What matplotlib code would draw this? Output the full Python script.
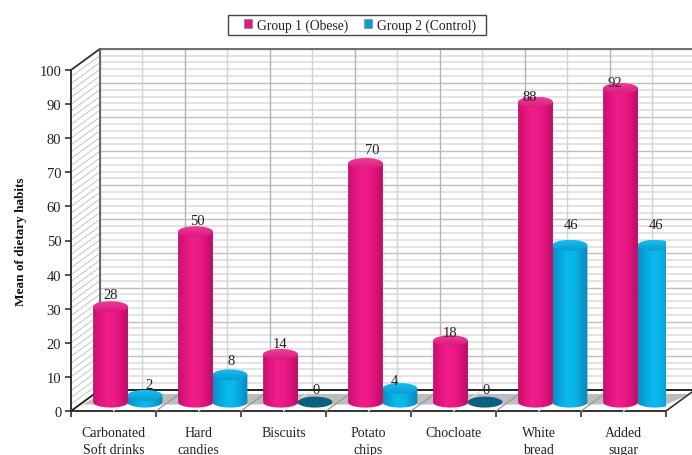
import numpy as np
import matplotlib
matplotlib.use('Agg')
import matplotlib.pyplot as plt
from matplotlib.patches import PathPatch, Polygon, Rectangle
from matplotlib.path import Path

plt.rcParams['font.family'] = ['Liberation Serif', 'DejaVu Serif']

categories = ['Carbonated\nSoft drinks', 'Hard\ncandies', 'Biscuits', 'Potato\nchips',
              'Chocloate', 'White\nbread', 'Added\nsugar']
obese = [28, 50, 14, 70, 18, 88, 92]
control = [2, 8, 0, 4, 0, 46, 46]
y_ticks = list(range(0, 101, 10))

# label nudges in points (x, y) relative to the top of each cylinder
obese_nudge = [(0, 9), (1, 8), (0, 8), (5, 10), (0, 6), (-4, 4), (-4, 4)]
control_nudge = [(3, 8), (1, 10), (1, 9), (-4, 6), (1, 9), (1, 15), (1, 15)]

# depth of the 3D box, in data units
DX = 0.341
DY = 6.2
# cylinder geometry, in data units
RX = 0.205
RY = 1.6
BASE_X = 0.465
GAP_X = 0.405
BASE_Y = 2.6

W, H = 692, 456
fig = plt.figure(figsize=(W / 100, H / 100), dpi=100)
ax = fig.add_axes([71 / W, 1 - 412 / H, 595 / W, 341 / H])
ax.set_xlim(0, 7)
ax.set_ylim(0, 100)
ax.patch.set_visible(False)


def cmap_for(stops):
    return matplotlib.colors.LinearSegmentedColormap.from_list('c', stops)


pink_side = cmap_for(['#C4126E', '#E4147F', '#EE1E8A', '#EC1A86', '#DC1279', '#B80F66'])
pink_top = cmap_for(['#EE3C98', '#DC1A7E'])
blue_side = cmap_for(['#0A8EC2', '#08A6DC', '#0ABAEC', '#0AB6EA', '#08A2D8', '#0A86B8'])
blue_top = cmap_for(['#16BEEE', '#0A9CD0'])


def ellipse(cx, cy, n=60):
    t = np.linspace(0, 2 * np.pi, n)
    return np.column_stack([cx + RX * np.cos(t), cy + RY * np.sin(t)])


def cylinder(cx, value, side, top):
    base = BASE_Y
    if value == 0:
        ax.add_patch(Polygon(ellipse(cx, base), closed=True, fc='#0B5F80', ec='none', zorder=5))
        return
    ytop = base + value
    t = np.linspace(np.pi, 2 * np.pi, 40)
    lower = np.column_stack([cx + RX * np.cos(t), base + RY * np.sin(t)])
    outline = np.vstack([[[cx - RX, ytop]], lower, [[cx + RX, ytop]], [[cx - RX, ytop]]])
    body = ax.imshow(np.linspace(0, 1, 64).reshape(1, -1), cmap=side, aspect='auto', zorder=5,
                     extent=[cx - RX, cx + RX, base - RY, ytop], interpolation='bilinear')
    body.set_clip_path(PathPatch(Path(outline), transform=ax.transData))
    cap = ax.imshow(np.linspace(0, 1, 16).reshape(-1, 1), cmap=top, aspect='auto', zorder=6,
                    extent=[cx - RX, cx + RX, ytop - RY, ytop + RY], interpolation='bilinear')
    cap.set_clip_path(PathPatch(Path(ellipse(cx, ytop)), transform=ax.transData))


# back wall and its grid
for v in range(0, 101, 2):
    major = v % 10 == 0
    ax.plot([DX, 7 + DX], [v + DY, v + DY], color='#BEBEBE' if major else '#DEDEDE',
            lw=1.0 if major else 1.2, clip_on=False, zorder=1)
    # same level carried across the side wall
    ax.plot([0, DX], [v, v + DY], color='#C4C4C4', lw=0.7, clip_on=False, zorder=1)
for i in range(15):
    x = DX + i / 2
    ax.plot([x, x], [DY, 100 + DY], color='#B4B4B4' if i % 2 == 0 else '#D2D2D2', lw=1.0,
            clip_on=False, zorder=1)

# floor
ax.add_patch(Polygon([(0, 0), (7, 0), (7 + DX, DY), (DX, DY)], closed=True, fc='white', ec='none',
                     clip_on=False, zorder=2))
ax.add_patch(Polygon([(0.14, 1.9), (7.0, 1.9), (7 + DX - 0.05, DY - 1.2), (DX, DY - 1.2)], closed=True,
                     fc='#BDBDBD', ec='none', clip_on=False, zorder=2))
for i in range(15):
    ax.plot([i / 2, i / 2 + DX], [0, DY], color='#E4E4E4' if i % 2 else '#9A9A9A', lw=0.9,
            clip_on=False, zorder=3)

# box outline
ax.plot([DX, 7 + DX], [DY, DY], color='#111111', lw=1.3, clip_on=False, zorder=3)
ax.plot([0, DX], [0, DY], color='#222222', lw=1.3, clip_on=False, zorder=3)
ax.plot([7, 7 + DX], [0, DY], color='#333333', lw=1.1, clip_on=False, zorder=3)
ax.plot([DX, DX], [DY, 100 + DY], color='#555555', lw=1.2, clip_on=False, zorder=3)
ax.plot([0, DX], [100, 100 + DY], color='#333333', lw=1.3, clip_on=False, zorder=3)
ax.plot([DX, 7 + DX], [100 + DY, 100 + DY], color='#666666', lw=1.3, clip_on=False, zorder=3)

# cylinders
for i in range(7):
    cylinder(i + BASE_X, obese[i], pink_side, pink_top)
    cylinder(i + BASE_X + GAP_X, control[i], blue_side, blue_top)

ax.set_xlim(0, 7)
ax.set_ylim(0, 100)

# value labels
for i in range(7):
    ax.annotate(str(obese[i]), (i + BASE_X, BASE_Y + obese[i]), xytext=obese_nudge[i],
                textcoords='offset points', ha='center', va='center', fontsize=10.5,
                color='#222222', zorder=7, annotation_clip=False)
    ax.annotate(str(control[i]), (i + BASE_X + GAP_X, BASE_Y + control[i]), xytext=control_nudge[i],
                textcoords='offset points', ha='center', va='center', fontsize=10.5,
                color='#222222', zorder=7, annotation_clip=False)

# axes
for name in ('top', 'right'):
    ax.spines[name].set_visible(False)
for name in ('left', 'bottom'):
    ax.spines[name].set_linewidth(1.3)
    ax.spines[name].set_color('#222222')
ax.set_yticks(y_ticks)
ax.set_xticks(range(8))
ax.set_xticklabels([])
ax.set_xticks(np.arange(7) + 0.5, labels=categories, minor=True)
ax.tick_params(axis='x', which='minor', length=0, pad=11, labelsize=10, labelcolor='#222222')
ax.tick_params(axis='x', which='major', length=4, width=1.1, direction='out', color='#222222')
ax.tick_params(axis='y', length=4, width=1.1, pad=3, labelsize=10.5, labelcolor='#222222', color='#222222')
for lab in ax.get_xticklabels(minor=True):
    lab.set_linespacing(1.35)
ax.set_ylabel('Mean of dietary habits', fontsize=9.5, fontweight='bold', labelpad=9, color='#111111')

# legend, with its frame drawn separately for the wider box
fig.add_artist(Rectangle((228 / W, 1 - 36 / H), 258 / W, 20 / H, transform=fig.transFigure,
                         fc='white', ec='#444444', lw=1.0))
handles = [Rectangle((0, 0), 1, 1, fc='#E0187F', ec='#888888', lw=0.5),
           Rectangle((0, 0), 1, 1, fc='#0A9ED4', ec='#888888', lw=0.5)]
fig.legend(handles, ['Group 1 (Obese)', 'Group 2 (Control)'], loc='center', ncol=2,
           bbox_to_anchor=(360 / W, 1 - 26 / H), fontsize=9.8, frameon=False,
           handlelength=0.6, handleheight=0.6, handletextpad=0.4, columnspacing=1.1,
           borderpad=0, labelcolor='#222222')

fig.savefig('out.png', dpi=100)
